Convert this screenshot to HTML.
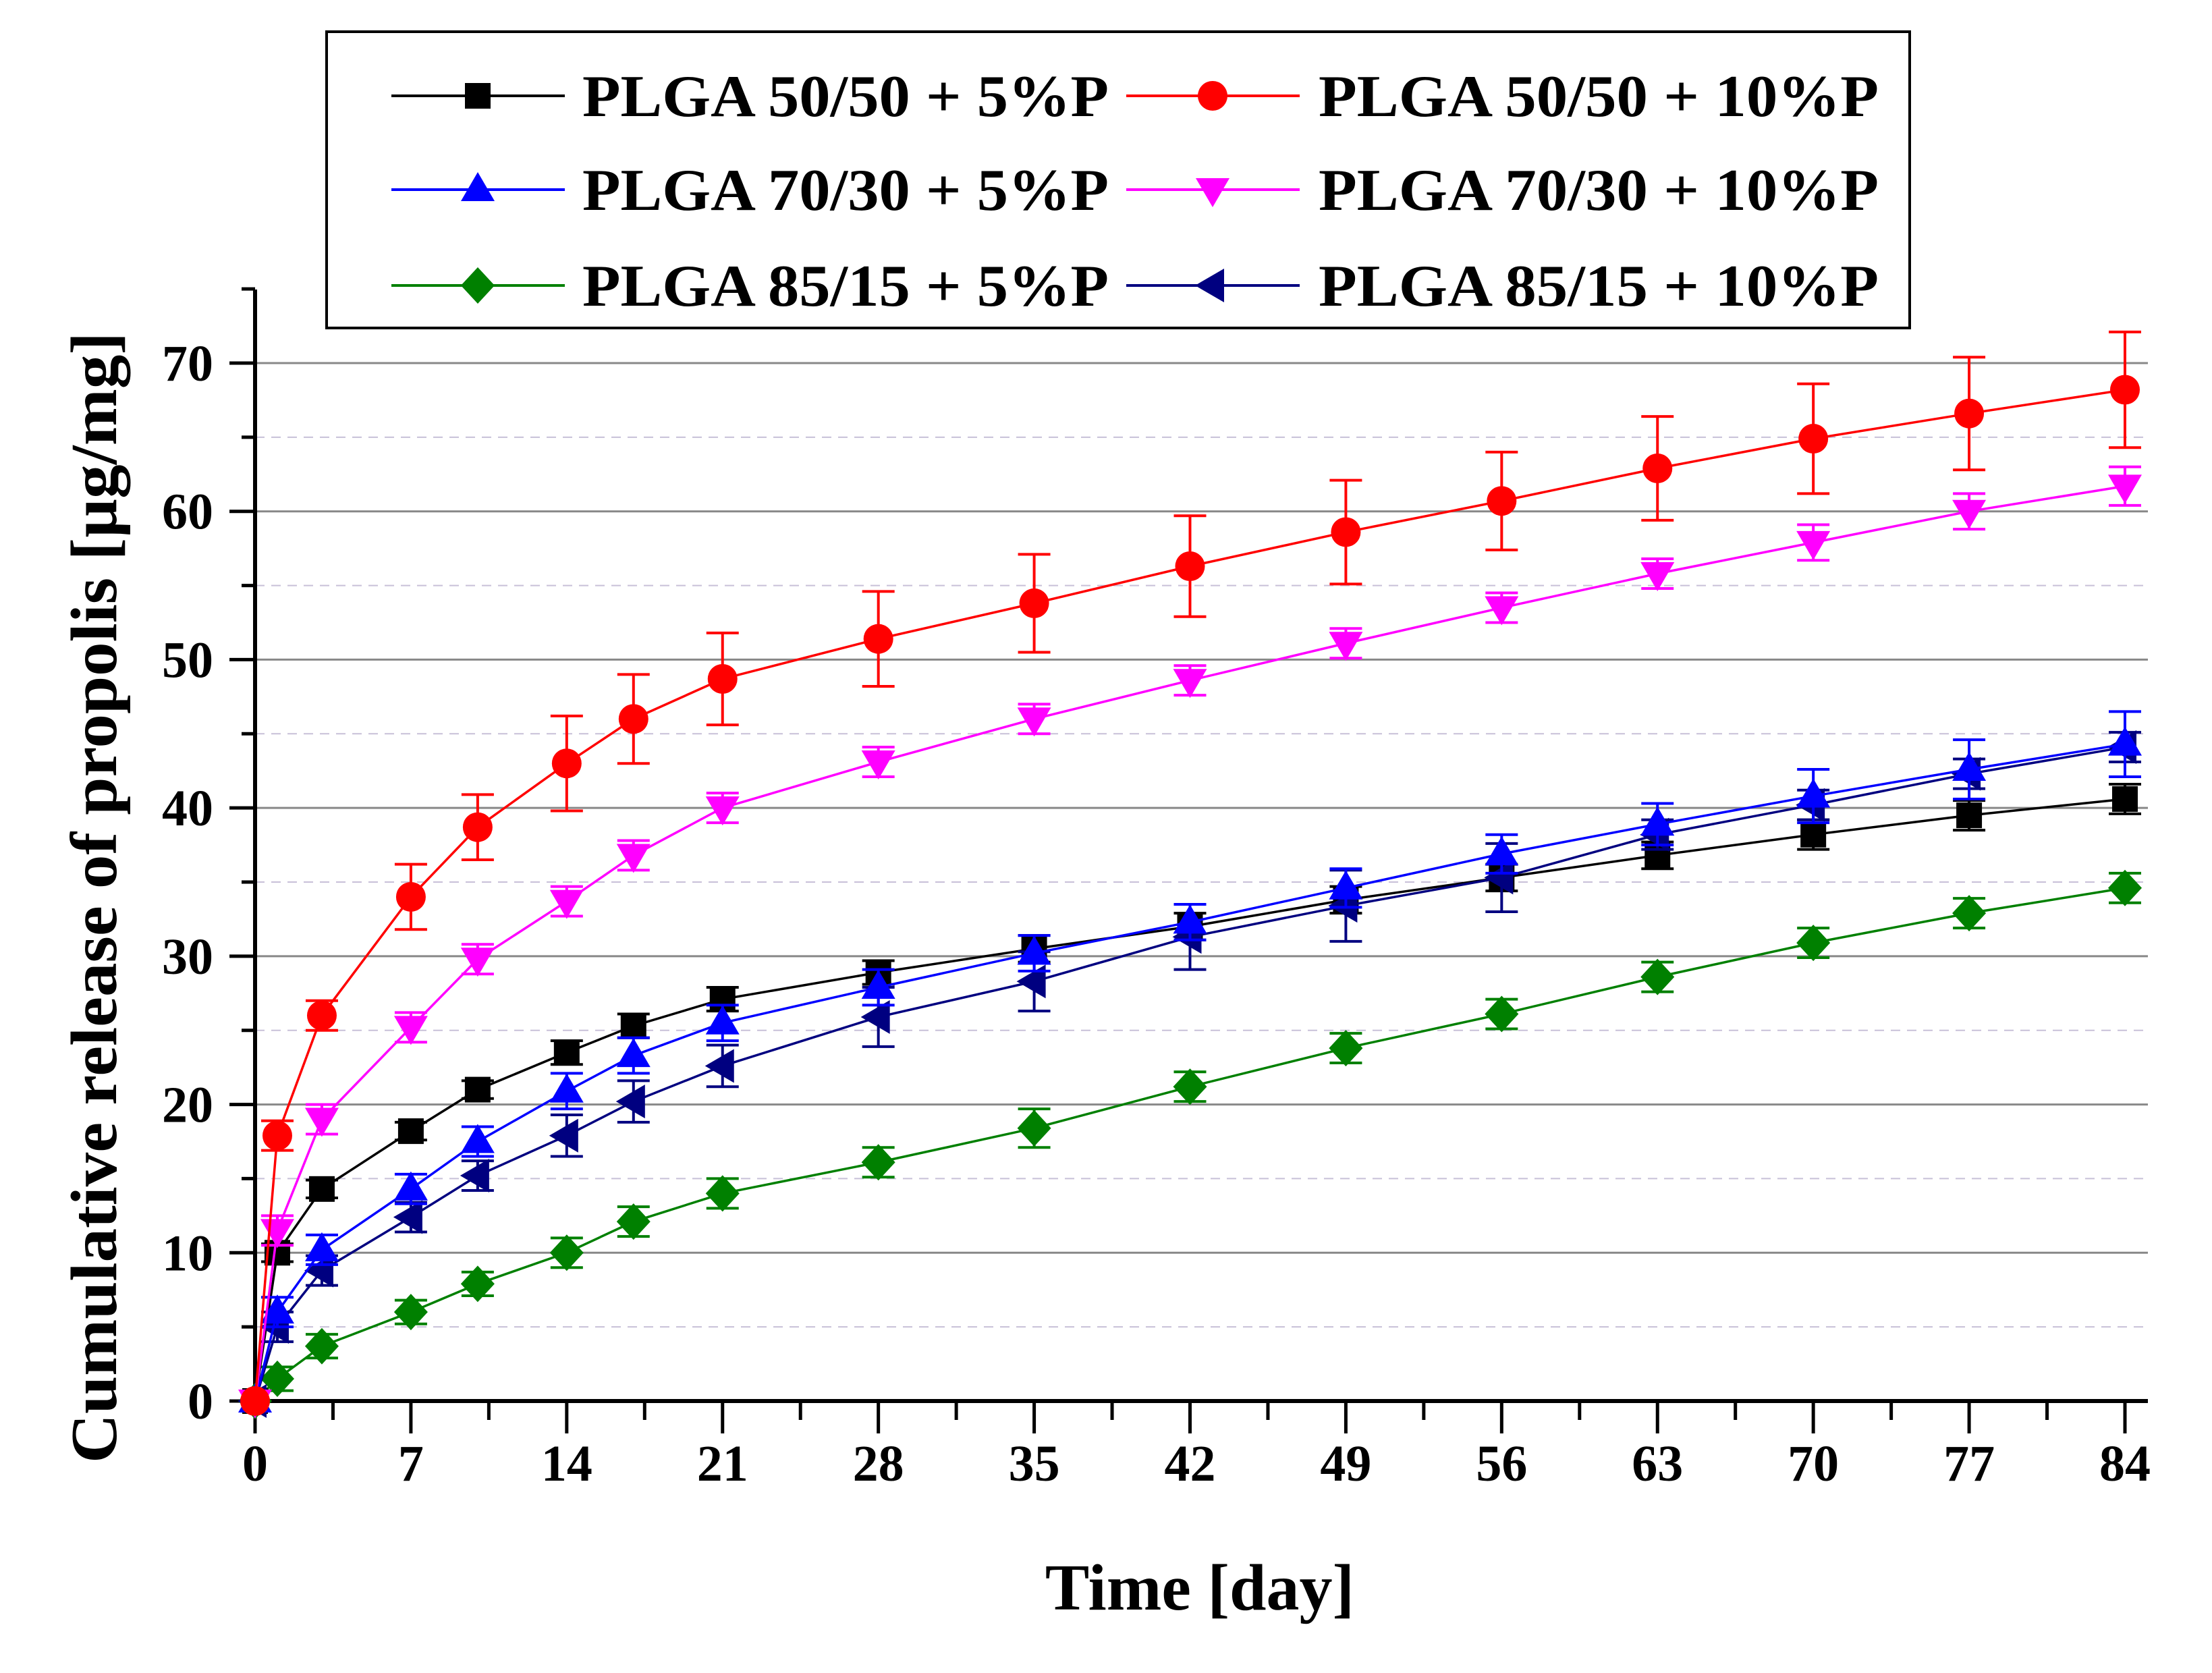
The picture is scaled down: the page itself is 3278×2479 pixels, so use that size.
<!DOCTYPE html>
<html><head><meta charset="utf-8"><style>
html,body{margin:0;padding:0;background:#fff;}
svg{display:block;}
text{font-family:"Liberation Serif",serif;font-weight:bold;fill:#000;}
</style></head><body>
<svg id="chart" width="3278" height="2479" viewBox="0 0 3278 2479" xmlns="http://www.w3.org/2000/svg">
<g id="grid"></g>
<g id="axes"></g>
<g id="series"></g>
<text transform="translate(172,1330) rotate(-90)" text-anchor="middle" font-size="98" textLength="1676" lengthAdjust="spacingAndGlyphs">Cumulative release of propolis [µg/mg]</text>
<text x="1778" y="2385" text-anchor="middle" font-size="98">Time [day]</text>
<g id="legend"></g>
</svg>
<script>
const days = [0,1,3,7,10,14,17,21,28,35,42,49,56,63,70,77,84];
const s5050_5 = [0,10,14.3,18.2,21,23.5,25.3,27.1,28.9,30.5,32,33.8,35.3,36.8,38.2,39.5,40.6];
const s5050_10 = [0,17.9,26,34,38.7,43,46,48.7,51.4,53.8,56.3,58.6,60.7,62.9,64.9,66.6,68.2];
const s7030_5 = [0,6,10.2,14.3,17.5,20.9,23.3,25.5,27.9,30.2,32.3,34.6,36.9,38.9,40.8,42.6,44.3];
const s7030_10 = [0,11.5,19,25.2,29.8,33.7,36.8,40,43.1,46,48.6,51.1,53.5,55.8,57.9,60,61.7];
const s8515_5 = [0,1.5,3.7,6,7.9,10,12.1,14,16.1,18.4,21.2,23.8,26.1,28.6,30.9,32.9,34.6];
const s8515_10 = [0,5,8.8,12.4,15.2,17.9,20.2,22.6,25.9,28.3,31.3,33.4,35.3,38.2,40.2,42.3,44.1];
const e5050_5 = [0,0.6,0.6,0.6,0.6,0.8,0.8,0.8,0.8,0.9,0.9,0.9,0.9,0.9,1,1,1];
const e5050_10 = [0,1,1,2.2,2.2,3.2,3,3.1,3.2,3.3,3.4,3.5,3.3,3.5,3.7,3.8,3.9];
const e7030_5 = [0,1,1,1,1,1.2,1.2,1.2,1.2,1.2,1.2,1.3,1.3,1.4,1.8,2,2.2];
const e7030_10 = [0,1,1,1,1,1,1,1,1,1,1,1,1,1,1.2,1.2,1.3];
const e8515_5 = [0,0.8,0.8,0.8,0.8,1,1,1,1,1.3,1,1,1,1,1,1,1];
const e8515_10 = [0,1,1,1,1,1.4,1.4,1.4,2,2,2.2,2.4,2.3,1,1,1,1];
const xTicks = [0,7,14,21,28,35,42,49,56,63,70,77,84];
const yTicks = [0,10,20,30,40,50,60,70];
const legendLabels = ["PLGA 50/50 + 5%P","PLGA 50/50 + 10%P","PLGA 70/30 + 5%P","PLGA 70/30 + 10%P","PLGA 85/15 + 5%P","PLGA 85/15 + 10%P"];

const NS="http://www.w3.org/2000/svg";
const X0=378,X1=3149,Y0=2076,Y1=538;
const xs=d=>X0+(d/84)*(X1-X0);
const ys=v=>Y0-(v/70)*(Y0-Y1);
function mk(tag,attrs,parent){const e=document.createElementNS(NS,tag);for(const k in attrs)e.setAttribute(k,attrs[k]);parent.appendChild(e);return e;}
const grid=document.getElementById('grid'),axes=document.getElementById('axes'),ser=document.getElementById('series'),leg=document.getElementById('legend');

for(let v=5;v<=70;v+=5){
  const major=v%10===0;
  const l=mk('line',{x1:X0,x2:3183,y1:ys(v),y2:ys(v),stroke:major?'#888':'#c8c0d8','stroke-width':major?3:2,'stroke-dasharray':major?'none':'14 10'},grid);
  
  
}
let a=mk('line',{x1:X0,x2:X0,y1:429,y2:Y0+3,stroke:'#000','stroke-width':6},axes);

a=mk('line',{x1:X0-3,x2:3183,y1:Y0,y2:Y0,stroke:'#000','stroke-width':6},axes);

for(let v=0;v<=75;v+=5){
  const major=v%10===0;
  const t=mk('line',{x1:major?340:358,x2:X0,y1:ys(v),y2:ys(v),stroke:'#000','stroke-width':5},axes);
  
}
yTicks.forEach(v=>{
  const t=mk('text',{x:316,y:ys(v)+26,'text-anchor':'end','font-size':76},axes);t.textContent=v;
  
});
for(let d=0;d<=84;d+=3.5){
  const major=d%7===0;
  const t=mk('line',{x1:xs(d),x2:xs(d),y1:Y0,y2:Y0+(major?48:28),stroke:'#000','stroke-width':5},axes);
  
}
xTicks.forEach(d=>{
  const t=mk('text',{x:xs(d),y:2194,'text-anchor':'middle','font-size':76},axes);t.textContent=d;
  
});

function marker(shape,cx,cy,color,p){
  let e;
  if(shape==='square')e=mk('rect',{x:cx-19,y:cy-19,width:38,height:38,fill:color},p);
  else if(shape==='circle')e=mk('circle',{cx:cx,cy:cy,r:22,fill:color},p);
  else if(shape==='up')e=mk('polygon',{points:`${cx},${cy-26} ${cx-25},${cy+17} ${cx+25},${cy+17}`,fill:color},p);
  else if(shape==='down')e=mk('polygon',{points:`${cx},${cy+26} ${cx-25},${cy-17} ${cx+25},${cy-17}`,fill:color},p);
  else if(shape==='diamond')e=mk('polygon',{points:`${cx},${cy-27} ${cx+25},${cy} ${cx},${cy+27} ${cx-25},${cy}`,fill:color},p);
  else e=mk('polygon',{points:`${cx-26},${cy} ${cx+17},${cy-25} ${cx+17},${cy+25}`,fill:color},p);
  return e;
}
const seriesDefs=[
 {vals:s8515_5,err:e8515_5,color:'#008000',shape:'diamond',name:'series-plga-85-15-5p'},
 {vals:s5050_5,err:e5050_5,color:'#000000',shape:'square',name:'series-plga-50-50-5p'},
 {vals:s8515_10,err:e8515_10,color:'#000080',shape:'left',name:'series-plga-85-15-10p'},
 {vals:s7030_5,err:e7030_5,color:'#0000ff',shape:'up',name:'series-plga-70-30-5p'},
 {vals:s7030_10,err:e7030_10,color:'#ff00ff',shape:'down',name:'series-plga-70-30-10p'},
 {vals:s5050_10,err:e5050_10,color:'#ff0000',shape:'circle',name:'series-plga-50-50-10p'}
];
seriesDefs.forEach(s=>{
  const g=mk('g',{},ser);
  
  const pl=mk('polyline',{points:days.map((d,i)=>xs(d)+','+ys(s.vals[i])).join(' '),fill:'none',stroke:s.color,'stroke-width':3.5},g);
  
  days.forEach((d,i)=>{
    const x=xs(d),y=ys(s.vals[i]);
    if(s.err[i]>0){
      const eb=mk('path',{d:`M${x},${ys(s.vals[i]-s.err[i])}V${ys(s.vals[i]+s.err[i])}M${x-24},${ys(s.vals[i]+s.err[i])}h48M${x-24},${ys(s.vals[i]-s.err[i])}h48`,stroke:s.color,'stroke-width':4,fill:'none'},g);
      
    }
    const m=marker(s.shape,x,y,s.color,g);
    
  });
});

let box=mk('rect',{x:484,y:47,width:2346,height:439,fill:'#fff',stroke:'#000','stroke-width':4},leg);

const legOrder=[['#000000','square'],['#ff0000','circle'],['#0000ff','up'],['#ff00ff','down'],['#008000','diamond'],['#000080','left']];
const rowsY=[142,281,423];
legOrder.forEach((o,i)=>{
  const col=i%2,row=Math.floor(i/2);
  const lx=col?1669:580, tx=col?1954:863, cy=rowsY[row];
  const g=mk('g',{},leg);
  
  mk('line',{x1:lx,x2:lx+257,y1:cy,y2:cy,stroke:o[0],'stroke-width':4},g);
  marker(o[1],lx+128,cy,o[0],g);
  const t=mk('text',{x:tx,y:cy+30,'font-size':88,textLength:col?830:780,lengthAdjust:'spacingAndGlyphs'},g);
  t.textContent=legendLabels[i];
});
</script>
</body></html>
